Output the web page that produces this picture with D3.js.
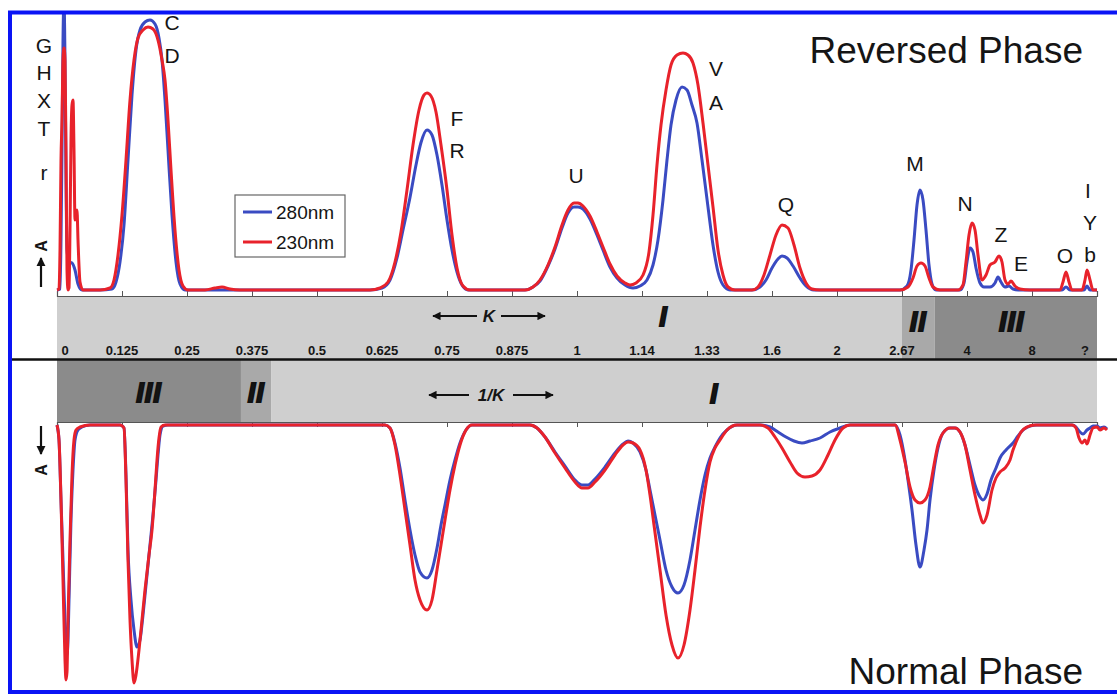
<!DOCTYPE html>
<html>
<head>
<meta charset="utf-8">
<script src="https://cdn.jsdelivr.net/npm/d3@7/dist/d3.min.js"></script>
<style>
  html, body { margin: 0; padding: 0; background: #fff; }
  svg { display: block; }
  text { font-family: "Liberation Sans", Arial, sans-serif; fill: #151515; }
</style>
</head>
<body>
<svg id="chart" width="1117" height="694"></svg>
<script>
// ---- data ---------------------------------------------------------------
// retention axis labels (K values, reversed phase on top / 1/K normal phase below)
const kLabels = ["0","0.125","0.25","0.375","0.5","0.625","0.75","0.875","1","1.14","1.33","1.6","2","2.67","4","8","?"];

// [retention, absorbance] – reversed phase, 280 nm
const rp280 = [[0,0],[0.3,0.4],[0.4,20],[0.5,56],[0.6,100],[0.7,116],[0.8,92],[0.9,44],[1.0,16],[1.2,11.2],[1.5,10.8],[1.8,8],[2.1,2.4],[2.5,0],[4.3,0],[5.5,0.4],[5.9,3.2],[6.3,11.2],[6.7,26],[7.1,52],[7.5,78],[7.9,96],[8.3,104],[8.8,107.2],[9.3,108],[9.8,106.4],[10.2,100.8],[10.5,92],[10.8,76],[11.1,56],[11.5,30],[11.9,11.2],[12.3,2.4],[12.8,0],[31.3,0],[32.5,0.8],[33.3,4],[34.0,12.8],[34.6,24],[35.3,37],[35.9,50],[36.4,59],[37.0,64],[37.5,62],[38.0,54],[38.5,42],[39.0,28],[39.5,16],[40.0,7.2],[40.5,2],[41.1,0],[46.8,0],[47.6,1.2],[48.3,3.6],[49.1,9.6],[49.8,16.4],[50.5,24.8],[51.1,30.8],[51.7,33.2],[52.1,33.2],[52.6,32.4],[53.3,28.4],[54.0,22],[54.6,16],[55.3,9.2],[56.0,4.8],[56.8,2],[57.6,0.8],[58.3,1.6],[59.0,4],[59.6,10],[60.1,20],[60.6,36],[61.0,52],[61.4,66],[61.9,76],[62.5,81.2],[63.0,80],[63.5,74],[64.0,66.8],[64.5,52],[65.1,33.2],[65.6,18],[66.1,7.2],[66.6,2],[67.3,0],[69.5,0],[70.3,1.2],[70.9,4],[71.5,8.8],[72.1,12.4],[72.5,13.6],[73.0,12.8],[73.6,9.6],[74.3,4.8],[74.9,1.6],[75.7,0],[84.3,0],[85.0,1.6],[85.4,8],[85.7,20],[86.0,34],[86.3,40],[86.6,36],[86.9,24],[87.2,10],[87.5,2.4],[87.9,0],[90.3,0],[90.7,2.8],[91.0,11.2],[91.3,16.8],[91.6,15.2],[91.9,8.8],[92.3,2.8],[92.7,1.2],[93.3,1.2],[93.8,2.8],[94.1,5.2],[94.4,3.2],[94.8,1.2],[95.2,1.6],[95.6,0.4],[96.3,0],[100.5,0],[100.9,1.2],[101.3,0],[102.7,0],[103.0,1.6],[103.3,0],[104,0]];

// reversed phase, 230 nm
const rp230 = [[0,0],[0.2,0.4],[0.3,16],[0.4,52],[0.5,68],[0.6,92],[0.7,96.8],[0.8,92],[0.9,56],[1.0,8],[1.1,0],[1.2,0.8],[1.3,24],[1.4,60],[1.5,74],[1.6,76],[1.7,56],[1.8,28],[1.9,31.2],[2.0,32],[2.1,20],[2.3,3.2],[2.6,0],[4.3,0],[5.3,0.8],[5.7,4],[6.1,14],[6.5,30],[6.9,52],[7.3,76],[7.7,92],[8.1,100.8],[8.6,104],[9.1,105.2],[9.6,104.4],[10.1,100],[10.5,92],[10.8,84],[11.1,68],[11.4,48],[11.8,24],[12.2,8],[12.6,1.6],[13.1,0],[14.8,0],[15.8,0.8],[16.5,1.2],[17.3,0.4],[18.3,0],[31.3,0],[32.3,0.8],[33.1,3.2],[33.8,11.2],[34.4,23.2],[35.0,40],[35.6,58],[36.2,72],[36.7,78],[37.0,78.8],[37.4,77.6],[37.9,71.2],[38.4,58],[39.0,40],[39.5,22],[40.0,8.8],[40.6,1.6],[41.3,0],[46.8,0],[47.6,1.2],[48.3,4],[49.1,10],[49.8,17.2],[50.5,26],[51.1,32],[51.7,34.8],[52.1,34.8],[52.6,33.6],[53.3,29.6],[54.0,23.2],[54.6,17.2],[55.3,10.4],[56.0,5.6],[56.8,2.8],[57.3,2],[57.9,2.8],[58.6,6],[59.2,15.2],[59.6,30],[60.0,50],[60.4,66],[60.9,80],[61.4,90],[62.0,94],[62.6,94.8],[63.1,94],[63.6,90.8],[64.1,82],[64.6,66.8],[65.1,50],[65.6,33.2],[66.1,16],[66.6,6],[67.1,1.2],[67.8,0],[69.5,0],[70.1,1.2],[70.7,6],[71.3,14],[71.9,22],[72.5,26],[73.1,24.8],[73.7,18],[74.3,8.8],[74.9,2.8],[75.5,0.4],[76.3,0],[84.3,0],[85.1,1.2],[85.6,4.8],[86.0,9.6],[86.4,10.8],[86.8,9.6],[87.2,4.8],[87.6,1.2],[88.3,0],[90.1,0],[90.6,2],[90.9,11.2],[91.2,22],[91.5,26.8],[91.8,24],[92.1,14],[92.5,4],[92.9,6],[93.3,10],[93.8,11.2],[94.2,13.6],[94.5,11.2],[94.8,4],[95.1,2.4],[95.4,3.6],[95.8,1.6],[96.3,0.4],[97.3,0],[100.3,0],[100.6,3.2],[100.9,7.2],[101.2,3.2],[101.5,0],[102.5,0],[102.8,4],[103.0,8],[103.3,4],[103.6,0],[104,0]];

// normal phase, 280 nm
const np280 = [[0,0],[0.2,6],[0.4,30],[0.6,54],[0.8,78],[1.0,92],[1.1,86],[1.2,70],[1.4,38],[1.6,18],[1.8,6],[2.1,2],[2.5,0.8],[3.3,0],[6.3,0],[6.7,1.2],[6.9,20],[7.1,50],[7.4,70],[7.7,82],[8.0,88.8],[8.3,86],[8.6,76],[8.9,64],[9.3,48],[9.6,36],[9.9,22],[10.1,12],[10.3,4],[10.6,0.4],[11.1,0],[32.8,0],[33.3,1.2],[33.8,7.2],[34.3,17.2],[34.8,30],[35.3,42],[35.8,52],[36.3,58.8],[37.0,61.2],[37.5,58],[38.0,49.2],[38.4,40],[38.8,32],[39.3,22],[39.8,14],[40.3,7.2],[40.9,2],[41.5,0],[47.3,0],[48.0,1.2],[48.8,4.8],[49.8,10.8],[50.8,16.4],[51.8,22],[52.5,24],[53.1,24],[53.8,21.6],[54.8,16.8],[55.8,11.2],[56.6,7.6],[57.1,6.4],[57.6,7.2],[58.3,10.8],[58.9,18],[59.3,26],[59.8,36],[60.3,46],[60.9,58],[61.5,64.8],[62.1,67.2],[62.7,64],[63.3,54],[63.8,42],[64.3,30],[64.8,20],[65.3,13.2],[65.8,8.8],[66.3,5.2],[67.0,2],[68.0,0],[70.3,0],[71.3,0.8],[72.1,2.8],[72.9,4.8],[73.7,6.4],[74.5,7.2],[75.3,6.4],[76.3,5.2],[77.3,2.8],[78.3,1.2],[79.3,0],[83.8,0],[84.3,4],[84.8,14],[85.1,22],[85.5,34],[85.9,48],[86.3,56.8],[86.7,50],[87.0,42],[87.3,30],[87.7,18],[88.1,9.2],[88.6,3.2],[89.3,1.2],[89.8,1.2],[90.3,2.8],[90.8,8],[91.3,16],[91.8,24],[92.3,28.8],[92.6,30],[93.0,27.6],[93.4,22],[93.9,17.2],[94.3,13.2],[94.9,10],[95.6,7.2],[96.1,4.4],[96.6,2],[97.3,0.4],[98.0,0],[101.5,0],[101.9,0.8],[102.2,2.4],[102.6,3.6],[103.0,2],[103.3,1.2],[103.6,0.4],[104.0,0.4],[104.3,1.2],[104.7,0.8],[105.0,1.6]];

// normal phase, 230 nm
const np230 = [[0,0],[0.2,6],[0.4,30],[0.6,62],[0.8,94],[0.9,102],[1.0,98.8],[1.1,78],[1.3,46],[1.5,20],[1.7,6],[1.9,2],[2.3,0.8],[3.3,0],[6.3,0],[6.7,1.2],[6.9,22],[7.1,54],[7.3,78],[7.5,94],[7.7,103.2],[7.9,100],[8.2,90],[8.5,78],[8.8,66],[9.2,52],[9.5,42],[9.8,26],[10.0,14],[10.2,5.2],[10.4,0.8],[10.8,0],[32.8,0],[33.3,1.2],[33.8,8],[34.3,20],[34.8,34],[35.3,48],[35.8,62],[36.3,70],[37.0,74],[37.5,70],[38.0,58],[38.4,48],[38.8,38],[39.3,26],[39.8,16],[40.3,8],[40.9,2],[41.5,0],[47.3,0],[48.0,1.2],[48.8,4.8],[49.8,11.2],[50.8,17.2],[51.8,22.8],[52.5,25.2],[53.1,25.2],[53.8,22.8],[54.8,18],[55.8,12],[56.6,8],[57.1,6.8],[57.6,7.2],[58.3,10],[58.9,18],[59.3,28],[59.7,40],[60.3,58],[60.9,76],[61.5,88],[62.1,93.2],[62.7,88],[63.3,74],[63.8,58],[64.3,40.8],[64.8,26],[65.3,14.8],[65.8,9.2],[66.3,6],[67.0,2],[68.0,0],[70.3,0],[71.1,1.2],[71.8,4.8],[72.5,9.2],[73.3,14.8],[74.0,19.2],[74.8,20.8],[75.5,20.4],[76.3,18],[77.1,12],[77.8,6],[78.6,1.2],[79.3,0],[83.8,0],[84.3,6],[84.8,14.8],[85.3,24.8],[85.8,30],[86.3,31.2],[86.8,30],[87.3,24.8],[87.7,16],[88.1,8],[88.6,3.2],[89.3,1.2],[89.8,1.2],[90.3,2.8],[90.8,8],[91.3,18],[91.8,28],[92.3,36],[92.6,39.2],[93.0,36],[93.5,26],[93.9,21.2],[94.3,18.8],[94.8,17.2],[95.3,14],[95.6,10],[96.0,6],[96.4,2.8],[97.0,0.8],[97.8,0],[101.5,0],[101.9,1.2],[102.2,5.2],[102.5,7.2],[102.8,6],[103.0,7.6],[103.3,4],[103.6,1.2],[104.0,0.8],[104.3,2],[104.7,1.2],[105.0,2]];

// peak identifications on the reversed-phase trace: [label, retention, absorbance]
const peakLabels = [["G",-1.3,98],["H",-1.3,87.2],["X",-1.3,76],["T",-1.3,64.8],["r",-1.3,47],
  ["C",11.5,107.2],["D",11.5,94],["F",40.0,68.8],["R",40.0,56],["U",51.9,46],
  ["V",65.9,88.8],["A",65.9,75.2],["Q",72.9,34.4],["M",85.8,50.8],["N",90.8,34.8],
  ["Z",94.4,22.4],["E",96.4,10.8],["O",100.8,14],["I",103.1,40],["Y",103.3,27.2],["b",103.3,14.4]];

// retention zones (in K-label index units)
const rpZones = [["I",0,13],["II",13,13.5],["III",13.5,16]];
const npZones = [["III",0,2.83],["II",2.83,3.3],["I",3.3,16]];

const seriesNames = ["280nm","230nm"];
const seriesColors = ["#3a4bc2","#e8222b"];

// ---- layout -------------------------------------------------------------
const svg = d3.select("#chart");
const left = 57, right = 1097;
const x = d3.scaleLinear().domain([0,104]).range([left,right]);
const kx = d3.scalePoint().domain(kLabels).range([left,right]);
const zx = d3.scaleLinear().domain([0,16]).range([left,right]);
const yTop = d3.scaleLinear().domain([0,110]).range([290,15]);
const yBot = d3.scaleLinear().domain([0,110]).range([425,700]);

const bandTop = [296,359], bandBot = [359,422];
const zoneFill = {I:"#cfcfcf", II:"#a9a9a9", III:"#8b8b8b"};

// arrow marker
const defs = svg.append("defs");
defs.append("marker").attr("id","ah").attr("viewBox","0 0 10 10")
  .attr("refX",9).attr("refY",5).attr("markerWidth",4.2).attr("markerHeight",4.2)
  .attr("orient","auto-start-reverse")
  .append("path").attr("d","M0,0 L10,5 L0,10 z").attr("fill","#111");
defs.append("clipPath").attr("id","clipTop").append("rect")
  .attr("x",0).attr("y",14).attr("width",1117).attr("height",300);

// zone bands
function drawZones(zones, yr) {
  svg.append("g").selectAll("rect").data(zones).join("rect")
    .attr("x", d => zx(d[1])).attr("width", d => zx(d[2]) - zx(d[1]))
    .attr("y", yr[0]).attr("height", yr[1]-yr[0])
    .attr("fill", d => zoneFill[d[0]]);
}
drawZones(rpZones, bandTop);
drawZones(npZones, bandBot);

// tick axes on the outer band edges
const axTop = svg.append("g").attr("transform",`translate(0,${bandTop[0]})`)
  .call(d3.axisTop(kx).tickSize(5).tickFormat(""));
const axBot = svg.append("g").attr("transform",`translate(0,${bandBot[1]})`)
  .call(d3.axisBottom(kx).tickSize(5).tickFormat(""));
[axTop, axBot].forEach(g => {
  g.select(".domain").attr("stroke","#555").attr("stroke-width",1.2);
  g.selectAll(".tick line").attr("stroke","#555");
});

// K labels
svg.append("g").selectAll("text").data(kLabels).join("text")
  .attr("x", (d,i) => kx(d) + (i===0 ? 8 : i===kLabels.length-1 ? -12 : 0))
  .attr("y", 355).attr("text-anchor","middle")
  .attr("font-size", 13).attr("font-weight","bold").text(d => d);

// separator line
svg.append("line").attr("x1",10).attr("x2",1117).attr("y1",359.5).attr("y2",359.5)
  .attr("stroke","#111").attr("stroke-width",2.5);

// zone numerals
function numerals(zones, ys, offsets) {
  svg.append("g").selectAll("text").data(zones).join("text")
    .attr("x", (d,i) => zx((d[1]+d[2])/2) + offsets[i])
    .attr("y", (d,i) => ys[i]).attr("text-anchor","middle")
    .attr("font-size", 27).attr("font-weight","bold").attr("font-style","italic")
    .attr("letter-spacing", 1)
    .attr("stroke","#111").attr("stroke-width",1.8)
    .text(d => d[0]);
}
numerals(rpZones, [326, 331, 331], [184, 0, -4]);
numerals(npZones, [402, 402, 403], [0, 0, 30]);

// K and 1/K direction arrows
function dirArrow(label, cx, y, half, gap) {
  const g = svg.append("g");
  g.append("line").attr("x1",cx-gap).attr("x2",cx-half).attr("y1",y).attr("y2",y)
    .attr("stroke","#111").attr("stroke-width",2).attr("marker-end","url(#ah)");
  g.append("line").attr("x1",cx+gap).attr("x2",cx+half).attr("y1",y).attr("y2",y)
    .attr("stroke","#111").attr("stroke-width",2).attr("marker-end","url(#ah)");
  g.append("text").attr("x",cx).attr("y",y+6).attr("text-anchor","middle")
    .attr("font-size",17).attr("font-weight","bold").attr("font-style","italic").text(label);
}
dirArrow("K", 489, 316, 56, 12);
dirArrow("1/K", 491, 395, 62, 22);

// traces
const lineTop = d3.line().x(d => x(d[0])).y(d => yTop(d[1])).curve(d3.curveMonotoneX);
const lineBot = d3.line().x(d => x(d[0])).y(d => yBot(d[1])).curve(d3.curveMonotoneX);
const gTop = svg.append("g").attr("clip-path","url(#clipTop)");
[rp280, rp230].forEach((s,i) => gTop.append("path").attr("d", lineTop(s))
  .attr("fill","none").attr("stroke",seriesColors[i]).attr("stroke-width",3).attr("stroke-linejoin","round"));
[np280, np230].forEach((s,i) => svg.append("path").attr("d", lineBot(s))
  .attr("fill","none").attr("stroke",seriesColors[i]).attr("stroke-width",3).attr("stroke-linejoin","round"));

// peak letters
svg.append("g").selectAll("text").data(peakLabels).join("text")
  .attr("x", d => x(d[1])).attr("y", d => yTop(d[2]))
  .attr("dy","0.36em").attr("text-anchor","middle").attr("font-size",21).text(d => d[0]);

// legend
const lg = svg.append("g").attr("transform","translate(235,195)");
lg.append("rect").attr("width",110).attr("height",62).attr("fill","#fff")
  .attr("stroke","#666").attr("stroke-width",1.2);
seriesNames.forEach((n,i) => {
  lg.append("line").attr("x1",8).attr("x2",37).attr("y1",17+i*30).attr("y2",17+i*30)
    .attr("stroke",seriesColors[i]).attr("stroke-width",3);
  lg.append("text").attr("x",41).attr("y",17+i*30).attr("dy","0.36em")
    .attr("font-size",19).text(n);
});

// absorbance direction marks
function absMark(yArrowFrom, yArrowTo, yA) {
  svg.append("line").attr("x1",41).attr("x2",41).attr("y1",yArrowFrom).attr("y2",yArrowTo)
    .attr("stroke","#111").attr("stroke-width",2.2).attr("marker-end","url(#ah)");
  svg.append("text").attr("transform",`translate(41,${yA}) rotate(-90)`)
    .attr("text-anchor","middle").attr("dy","0.36em").attr("font-size",16).attr("font-weight","bold").text("A");
}
absMark(287, 258, 246);
absMark(426, 454, 470);

// phase titles
svg.append("text").attr("x",1083).attr("y",63).attr("text-anchor","end")
  .attr("font-size",37).text("Reversed Phase");
svg.append("text").attr("x",1083).attr("y",684).attr("text-anchor","end")
  .attr("font-size",37).text("Normal Phase");

// frame
svg.append("rect").attr("x",10).attr("y",12.5).attr("width",1200).attr("height",679.5)
  .attr("fill","none").attr("stroke","#0a14f5").attr("stroke-width",4);
</script>
</body>
</html>
